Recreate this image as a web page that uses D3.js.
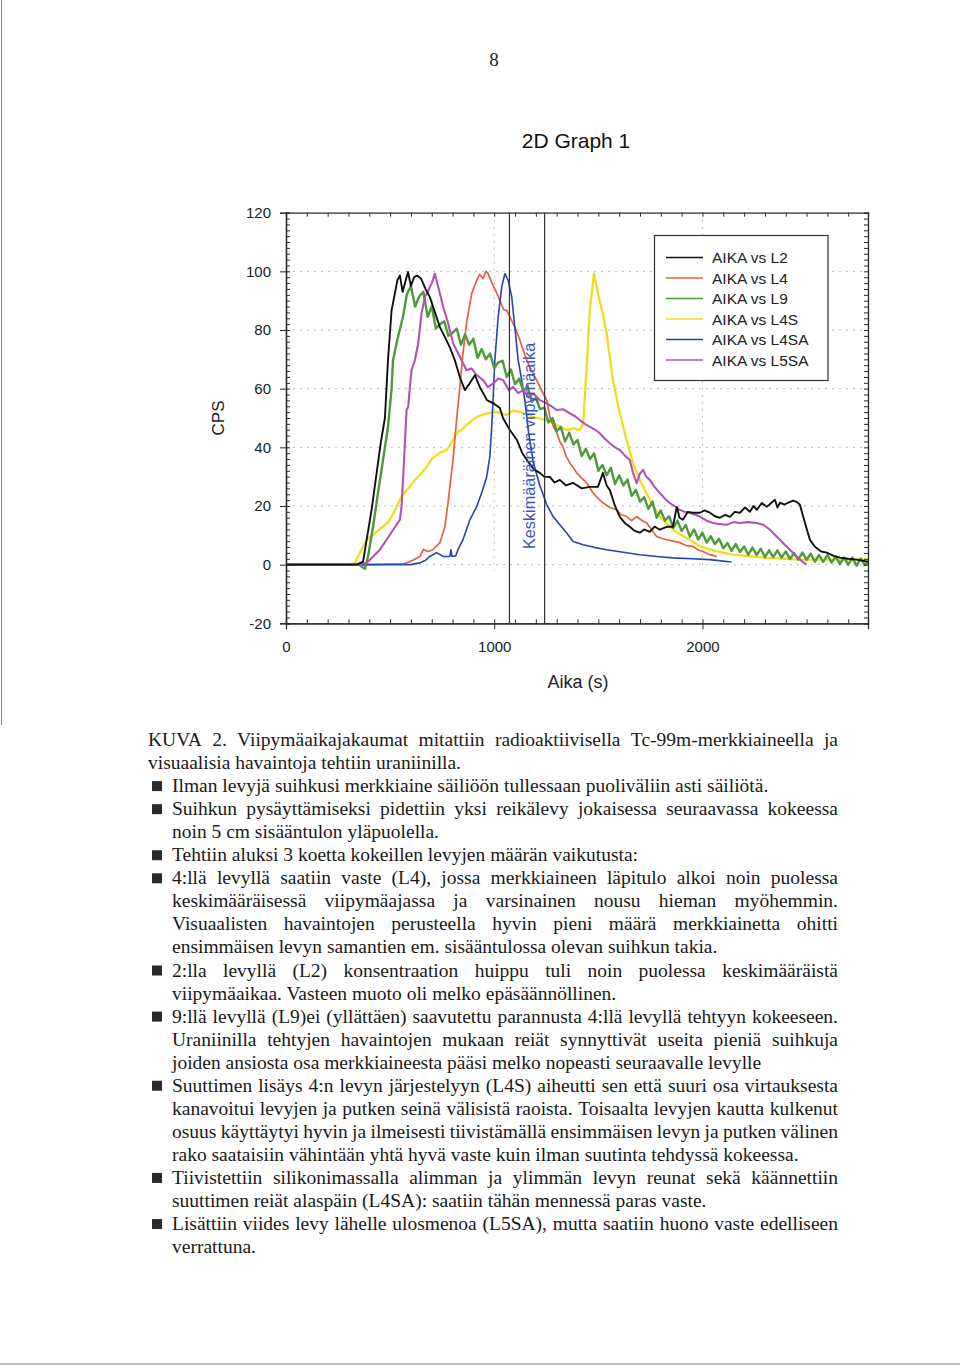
<!DOCTYPE html>
<html><head><meta charset="utf-8">
<script src="https://cdn.jsdelivr.net/npm/d3@7"></script>
<style>body{margin:0;background:#fff}svg{display:block}</style>
</head><body>
<svg id="c" width="960" height="1370"></svg>
<script>
// ---------- DATA ----------
const timeDomain = [0, 2795];
const cpsDomain = [-20, 120];
const yTickValues = [-20, 0, 20, 40, 60, 80, 100, 120];
const xTickValues = [0, 1000, 2000];
const gridY = [0, 20, 40, 60, 80, 100];
const gridX = [1000, 2000];
const meanLines = [1073, 1242];
const seriesNames = ["AIKA vs L2", "AIKA vs L4", "AIKA vs L9", "AIKA vs L4S", "AIKA vs L4SA", "AIKA vs L5SA"];

const L2 = [[0,0],[340,0],[370,1],[411,18.7],[455,41.5],[475,50],[490,70],[507,86.7],[523,92.5],[535,97],[547,98.6],[560,93],[575,97],[586,99.8],[600,95],[615,98],[629,98.6],[648,97.6],[670,94],[691,91.2],[715,86],[739,81],[760,78],[787,74.1],[811,69.7],[835,63.9],[859,59.5],[883,61.9],[907,64.6],[931,60.5],[965,56.1],[994,55.1],[1027,53.4],[1042,50],[1075,45.9],[1109,42.5],[1135,38],[1157,35.7],[1190,32.5],[1219,31.3],[1240,30],[1267,29.9],[1290,28],[1315,28.9],[1345,27],[1378,27.9],[1420,26],[1459,26.5],[1498,26.5],[1522,31.3],[1540,27],[1555,25.5],[1580,20],[1603,16.3],[1630,14],[1651,12.9],[1675,11.5],[1699,10.9],[1720,12],[1747,11.2],[1770,13],[1795,11.9],[1829,12.9],[1858,12.9],[1877,19.7],[1890,16],[1906,15.3],[1930,18],[1954,17.7],[1988,17.7],[2010,18.5],[2036,17.7],[2060,16.5],[2084,16],[2110,17],[2132,16.3],[2155,18],[2180,17.7],[2205,19.5],[2228,18],[2245,20],[2261,18.7],[2285,21],[2309,19.7],[2330,21],[2348,22.1],[2360,19.5],[2372,21.1],[2395,20.5],[2410,21.1],[2435,21.8],[2453,21.4],[2468,20.4],[2492,14.3],[2516,8.5],[2540,6.1],[2570,4.5],[2597,4.1],[2630,3],[2660,2.4],[2700,2],[2741,1.7],[2795,1]];

const L4 = [[0,0],[400,0],[560,0.3],[579,0.6],[610,1.5],[643,2.8],[660,5.2],[682,4.5],[706,5.1],[739,7.5],[763,12.9],[778,21.1],[802,35.7],[820,50],[835,60.6],[850,72.1],[867,82.3],[892,92.5],[916,96.9],[930,99],[946,97.5],[960,100],[970,99.3],[994,95.2],[1010,93],[1027,90.1],[1045,87],[1060,86.7],[1090,82.3],[1105,80],[1123,76.5],[1140,73],[1156,69.7],[1180,66],[1204,62.9],[1230,59],[1252,56.1],[1267,50.4],[1285,47],[1300,44.9],[1315,42],[1330,40.1],[1345,37],[1363,34.7],[1380,33],[1396,31.3],[1420,29.5],[1444,27.9],[1474,24.5],[1500,22.5],[1522,21.1],[1555,19.5],[1588,18.7],[1610,17],[1636,16.4],[1660,15],[1684,16.4],[1710,15],[1732,14.3],[1755,12],[1780,9.6],[1805,9],[1828,8.5],[1860,8],[1892,7.5],[1920,6.5],[1954,6.2],[1980,5],[2002,4.5],[2036,3.4],[2068,2.8]];

const L9 = [[0,0],[350,0],[379,-1.4],[394,2.8],[418,12.9],[442,24.5],[466,35.7],[490,47],[507,60],[514,69.7],[538,77.7],[562,84.5],[580,92],[600,95],[620,88],[640,91.5],[660,93],[680,84.5],[700,88],[720,80.5],[740,82],[760,83],[780,78],[800,79],[820,80.5],[840,75],[860,78.5],[880,75],[900,77],[920,70.5],[940,73.5],[960,70],[980,72],[1000,67],[1020,69],[1040,69.5],[1060,64],[1080,66.5],[1100,61.5],[1120,63.5],[1140,59],[1160,61],[1180,55.5],[1200,57],[1220,53],[1240,53.5],[1260,48.5],[1280,50],[1300,45.5],[1320,47],[1340,42],[1360,45],[1380,41],[1400,42.5],[1420,37],[1440,39.5],[1460,36],[1480,38],[1500,32],[1520,34],[1540,30.5],[1560,33],[1580,27.5],[1600,30.5],[1620,27],[1640,29],[1660,23.5],[1680,25.5],[1700,21.5],[1720,23],[1740,19],[1760,21.5],[1780,16],[1800,18.5],[1820,15],[1840,16.5],[1860,12.5],[1880,15],[1900,11.5],[1920,13.5],[1940,9.5],[1960,12],[1980,8.6],[2000,10.9],[2020,7.5],[2040,9.7],[2060,7],[2080,8.8],[2100,5.6],[2120,7.4],[2140,4.7],[2160,7],[2180,4.3],[2200,6.2],[2220,3.4],[2240,5.8],[2260,3.3],[2280,5.4],[2300,2.6],[2320,4.9],[2340,2.6],[2360,4.9],[2380,2.4],[2400,4.5],[2420,1.9],[2440,4],[2460,1.7],[2480,4.1],[2500,1.6],[2520,3.7],[2540,1],[2560,3.3],[2580,0.9],[2600,3.3],[2620,0.7],[2640,2.8],[2660,0.2],[2680,2.4],[2700,0],[2720,2.4],[2740,-0.4],[2760,2.1],[2780,-0.2],[2795,1]];

const L4S = [[0,0],[300,0],[331,0.6],[355,4.1],[387,8.5],[418,10.2],[440,11.5],[466,13],[490,14.5],[507,16.4],[531,19.8],[555,23.2],[575,25],[595,26.6],[620,29],[643,30.6],[660,32],[676,33.4],[690,35],[706,36.4],[739,38.1],[771,39.1],[790,41],[802,42.5],[826,45.3],[845,46],[867,47.6],[890,49],[916,50.4],[940,51],[964,51.6],[1012,52.1],[1035,51.5],[1060,51],[1090,52.5],[1123,52.1],[1150,51.5],[1186,50.4],[1220,49.8],[1252,49.3],[1282,48.3],[1315,47],[1348,45.9],[1380,46.5],[1411,45.9],[1427,48],[1444,67.4],[1459,86.7],[1479,99.2],[1500,92],[1520,86],[1540,78.8],[1570,62.9],[1603,51.6],[1636,42.5],[1666,34.7],[1699,28.9],[1747,22.1],[1795,16.4],[1858,11.9],[1900,10],[1940,8.5],[1988,6.2],[2068,4.5],[2146,3.4],[2230,2.8],[2308,2.3],[2468,1.7],[2626,1.7],[2795,1.7]];

const L4SA = [[0,0],[600,0],[643,0.6],[670,1.5],[691,2.8],[723,4.1],[754,2.8],[787,2.8],[792,5.1],[797,2.8],[815,3],[826,5.1],[850,8.5],[883,15.3],[916,19.8],[940,24.5],[964,30],[979,36.8],[987,45.9],[992,52.7],[1003,69.7],[1019,84.5],[1036,94.7],[1051,99.2],[1067,96.9],[1084,91.3],[1099,81],[1115,69.7],[1132,62.9],[1147,56.1],[1165,45],[1187,35],[1219,27],[1252,20.5],[1283,16.4],[1315,13.6],[1348,10.8],[1379,7.9],[1427,6.8],[1480,5.9],[1540,5.1],[1620,4.2],[1699,3.4],[1780,2.8],[1858,2.3],[1950,2],[2036,1.7],[2140,0.9]];

const L5SA = [[0,0],[330,0],[387,0.6],[419,2.8],[451,5.1],[483,8.5],[515,11.9],[531,13.6],[547,15.3],[555,19.8],[563,30],[571,41.4],[579,52.7],[587,53.8],[595,60.6],[603,66.3],[619,69.7],[635,75.4],[651,85.6],[667,91.3],[683,93.5],[700,96],[715,99.2],[731,94.7],[755,87.9],[779,82.2],[803,75.4],[835,70.9],[867,66.3],[891,66.9],[916,64.6],[947,62.9],[970,60.5],[995,61.8],[1020,63.5],[1043,62.9],[1070,59.5],[1091,60.6],[1115,58.5],[1139,59.5],[1165,57],[1187,58.4],[1219,56.1],[1252,55],[1275,54],[1300,52.7],[1330,53],[1363,51.6],[1390,50.5],[1411,49.3],[1435,48],[1459,47],[1485,46],[1507,44.8],[1530,43],[1555,41.4],[1580,40],[1603,39.1],[1630,37],[1651,35.7],[1668,31],[1684,27.8],[1700,31],[1715,32.3],[1730,30],[1747,28.9],[1770,26.5],[1795,24.4],[1820,22.5],[1843,21],[1865,20],[1891,18.7],[1915,18],[1940,17.6],[1965,17],[1988,16.4],[2020,15],[2051,14.2],[2085,13.8],[2116,13.6],[2150,14.5],[2180,14.2],[2220,14.5],[2260,14.2],[2292,13.6],[2324,11.9],[2350,10],[2372,8.5],[2395,6.8],[2420,5.1],[2445,3.2],[2468,1.7],[2500,0]];

const seriesData = [L2, L4, L9, L4S, L4SA, L5SA];
const seriesColors = ["#111111", "#e8603c", "#4c9a3a", "#f2dc1e", "#2844b2", "#b352b4"];
const seriesWidths = [1.9, 1.7, 2.4, 2.3, 1.6, 2.1];
const drawOrder = [3, 1, 4, 2, 5, 0];

const textLines = [
 {t:"KUVA 2. Viipymäaikajakaumat mitattiin radioaktiivisella Tc-99m-merkkiaineella ja", b:false, ind:0, j:true},
 {t:"visuaalisia havaintoja tehtiin uraniinilla.", b:false, ind:0, j:false},
 {t:"Ilman levyjä suihkusi merkkiaine säiliöön tullessaan puoliväliin asti säiliötä.", b:true, ind:1, j:false},
 {t:"Suihkun pysäyttämiseksi pidettiin yksi reikälevy jokaisessa seuraavassa kokeessa", b:true, ind:1, j:true},
 {t:"noin 5 cm sisääntulon yläpuolella.", b:false, ind:1, j:false},
 {t:"Tehtiin aluksi 3 koetta kokeillen levyjen määrän vaikutusta:", b:true, ind:1, j:false},
 {t:"4:llä levyllä saatiin vaste (L4), jossa merkkiaineen läpitulo alkoi noin puolessa", b:true, ind:1, j:true},
 {t:"keskimääräisessä viipymäajassa ja varsinainen nousu hieman myöhemmin.", b:false, ind:1, j:true},
 {t:"Visuaalisten havaintojen perusteella hyvin pieni määrä merkkiainetta ohitti", b:false, ind:1, j:true},
 {t:"ensimmäisen levyn samantien em. sisääntulossa olevan suihkun takia.", b:false, ind:1, j:false},
 {t:"2:lla levyllä (L2) konsentraation huippu tuli noin puolessa keskimääräistä", b:true, ind:1, j:true},
 {t:"viipymäaikaa. Vasteen muoto oli melko epäsäännöllinen.", b:false, ind:1, j:false},
 {t:"9:llä levyllä (L9)ei (yllättäen) saavutettu parannusta 4:llä levyllä tehtyyn kokeeseen.", b:true, ind:1, j:true},
 {t:"Uraniinilla tehtyjen havaintojen mukaan reiät synnyttivät useita pieniä suihkuja", b:false, ind:1, j:true},
 {t:"joiden ansiosta osa merkkiaineesta pääsi melko nopeasti seuraavalle levylle", b:false, ind:1, j:false},
 {t:"Suuttimen lisäys 4:n levyn järjestelyyn (L4S) aiheutti sen että suuri osa virtauksesta", b:true, ind:1, j:true},
 {t:"kanavoitui levyjen ja putken seinä välisistä raoista. Toisaalta levyjen kautta kulkenut", b:false, ind:1, j:true},
 {t:"osuus käyttäytyi hyvin ja ilmeisesti tiivistämällä ensimmäisen levyn ja putken välinen", b:false, ind:1, j:true},
 {t:"rako saataisiin vähintään yhtä hyvä vaste kuin ilman suutinta tehdyssä kokeessa.", b:false, ind:1, j:false},
 {t:"Tiivistettiin silikonimassalla alimman ja ylimmän levyn reunat sekä käännettiin", b:true, ind:1, j:true},
 {t:"suuttimen reiät alaspäin (L4SA): saatiin tähän mennessä paras vaste.", b:false, ind:1, j:false},
 {t:"Lisättiin viides levy lähelle ulosmenoa (L5SA), mutta saatiin huono vaste edelliseen", b:true, ind:1, j:true},
 {t:"verrattuna.", b:false, ind:1, j:false}
];

// ---------- DRAW ----------
const svg = d3.select("#c");
const L = 286, R = 868, T = 212.7, B = 623.3;
const x = d3.scaleLinear().domain(timeDomain).range([L, R]);
const y = d3.scaleLinear().domain(cpsDomain).range([B, T]);
const axisColor = "#2a2a2a";
const sans = "Liberation Sans, Arial, sans-serif";

// page frame remnants
svg.append("line").attr("x1",1.5).attr("x2",1.5).attr("y1",0).attr("y2",725).attr("stroke","#888").attr("stroke-width",1);
svg.append("line").attr("x1",0).attr("x2",960).attr("y1",1364).attr("y2",1364).attr("stroke","#aaa").attr("stroke-width",1.5);

svg.append("text").attr("x",494).attr("y",66).attr("text-anchor","middle")
  .attr("font-family","Liberation Serif, serif").attr("font-size",19).attr("fill","#222").text("8");

svg.append("text").attr("x",576).attr("y",148).attr("text-anchor","middle")
  .attr("font-family",sans).attr("font-size",21).attr("fill","#111").text("2D Graph 1");

// grid
const grid = svg.append("g").attr("stroke","#bdbdbd").attr("stroke-width",1).attr("stroke-dasharray","2,5");
gridY.forEach(v => grid.append("line").attr("x1",L).attr("x2",R).attr("y1",y(v)).attr("y2",y(v)));
gridX.forEach(v => grid.append("line").attr("x1",x(v)).attr("x2",x(v)).attr("y1",T).attr("y2",y(-2)));

// clip
svg.append("clipPath").attr("id","pc").append("rect").attr("x",L).attr("y",T).attr("width",R-L).attr("height",B-T);

// series
const line = d3.line().x(d => x(d[0])).y(d => y(d[1])).curve(d3.curveLinear);
const sg = svg.append("g").attr("clip-path","url(#pc)");
drawOrder.forEach(i => {
  sg.append("path").datum(seriesData[i]).attr("d", line).attr("fill","none")
    .attr("stroke", seriesColors[i]).attr("stroke-width", seriesWidths[i]).attr("stroke-linejoin","round");
});

// mean residence lines
meanLines.forEach(v => svg.append("line").attr("x1",x(v)).attr("x2",x(v)).attr("y1",T).attr("y2",B)
  .attr("stroke","#333").attr("stroke-width",1.2));

// annotation
svg.append("text").attr("transform",`translate(${x(1195)},${y(5.3)}) rotate(-90)`)
  .attr("font-family",sans).attr("font-size",16.3).attr("fill","#3a55c4")
  .text("Keskimääräinen viipymäaika");

// axes
function styleAxis(g){ g.selectAll("path").attr("stroke",axisColor).attr("stroke-width",1.3);
  g.selectAll("line").attr("stroke",axisColor).attr("stroke-width",1);
  g.selectAll("text").attr("font-family",sans).attr("font-size",15).attr("fill","#222"); }
const minorY = d3.range(-20, 121, 2);
const minorX = d3.range(0, 2795, 100);
const plain = d => String(d);

svg.append("g").attr("transform",`translate(${L},0)`).call(d3.axisLeft(y).tickValues(yTickValues).tickSize(6).tickPadding(9).tickFormat(plain)).call(styleAxis);
svg.append("g").attr("transform",`translate(${L},0)`).call(d3.axisRight(y).tickValues(minorY).tickSize(4).tickFormat("")).call(styleAxis);
svg.append("g").attr("transform",`translate(${R},0)`).call(d3.axisLeft(y).tickValues(minorY).tickSize(4).tickFormat("")).call(styleAxis);
svg.append("g").attr("transform",`translate(0,${B})`).call(d3.axisBottom(x).tickValues(xTickValues).tickSize(6).tickPadding(12).tickFormat(plain)).call(styleAxis);
svg.append("g").attr("transform",`translate(0,${B})`).call(d3.axisTop(x).tickValues(minorX).tickSize(4).tickFormat("")).call(styleAxis);
svg.append("g").attr("transform",`translate(0,${T})`).call(d3.axisBottom(x).tickValues(minorX).tickSize(4).tickFormat("")).call(styleAxis);

// axis titles
svg.append("text").attr("transform",`translate(224,418) rotate(-90)`).attr("text-anchor","middle")
  .attr("font-family",sans).attr("font-size",17).attr("fill","#222").text("CPS");
svg.append("text").attr("x",578).attr("y",688).attr("text-anchor","middle")
  .attr("font-family",sans).attr("font-size",18).attr("fill","#222").text("Aika (s)");

// legend
const lg = svg.append("g");
lg.append("rect").attr("x",654.5).attr("y",235.5).attr("width",173.5).attr("height",145).attr("fill","#fff").attr("stroke","#333").attr("stroke-width",1.2);
seriesNames.forEach((n,i) => {
  const ly = 257.5 + i*20.5;
  lg.append("line").attr("x1",666).attr("x2",703).attr("y1",ly).attr("y2",ly).attr("stroke",seriesColors[i]).attr("stroke-width",1.6);
  lg.append("text").attr("x",712).attr("y",ly+5.5).attr("font-family",sans)
    .attr("font-size",15.5).attr("fill","#222").text(n);
});

// body text
const tg = svg.append("g").attr("font-family","Liberation Serif, 'Times New Roman', serif").attr("font-size",19.5).attr("fill","#1a1a1a");
const meas = tg.append("text").attr("x",-1000).attr("y",-1000);
function wlen(s){ meas.text(s); return meas.node().getComputedTextLength(); }
textLines.forEach((ln,i) => {
  const cy = 740 + i*23.05;
  const base = cy + 6;
  const x0 = ln.ind ? 172 : 148, x1 = 838;
  if (ln.b) tg.append("rect").attr("x",152).attr("y",cy-5).attr("width",10).attr("height",10).attr("fill","#2a2a2a");
  const words = ln.t.split(" ");
  const t = tg.append("text").attr("y",base);
  if (ln.j && words.length>1) {
    const ws = words.map(wlen);
    const total = d3.sum(ws);
    const gap = (x1 - x0 - total)/(words.length-1);
    let cx = x0;
    words.forEach((w,k) => { t.append("tspan").attr("x",cx).text(w); cx += ws[k] + gap; });
  } else {
    t.attr("x",x0).text(ln.t);
  }
});
meas.remove();
</script>
</body></html>
